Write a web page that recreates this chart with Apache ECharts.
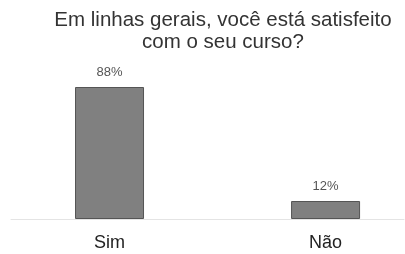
<!DOCTYPE html>
<html>
<head>
<meta charset="utf-8">
<script src="https://cdn.jsdelivr.net/npm/echarts@6/dist/echarts.min.js"></script>
<style>
  html, body { margin: 0; padding: 0; background: #fff; }
  #chart { width: 405px; height: 254px; }
</style>
</head>
<body>
<div id="chart"></div>
<script>
const titleText = 'Em linhas gerais, você está satisfeito\ncom o seu curso?'
const categories = ['Sim', 'Não']
const percents = [88, 12]

const myChart = echarts.init(document.getElementById('chart'))

const option = {
  animation: false,
  title: {
    text: titleText,
    left: 218,
    top: 4,
    textAlign: 'center',
    textStyle: {
      fontFamily: 'Liberation Sans',
      fontSize: 20.5,
      fontWeight: 'normal',
      color: '#333',
      lineHeight: 22
    }
  },
  grid: {
    left: 11,
    right: 1,
    top: 69,
    bottom: 35
  },
  xAxis: {
    type: 'value',
    min: -0.456,
    max: 1.363,
    axisLine: {
      show: true,
      lineStyle: { color: '#e4e4e4', width: 1 }
    },
    axisTick: { show: false },
    splitLine: { show: false },
    axisLabel: {
      customValues: [0, 1],
      margin: 15,
      fontFamily: 'Liberation Sans',
      fontSize: 18,
      color: '#222',
      formatter: (v) => categories[Math.round(v)]
    }
  },
  yAxis: {
    type: 'value',
    min: 0,
    max: 100,
    show: false
  },
  series: [
    {
      type: 'bar',
      barWidth: 69,
      data: percents.map((v, i) => [i, v]),
      itemStyle: {
        color: '#808080',
        borderColor: '#555',
        borderWidth: 1
      },
      label: {
        show: true,
        position: 'top',
        distance: 8,
        fontFamily: 'Liberation Sans',
        fontSize: 13,
        color: '#555',
        formatter: (p) => p.value[1] + '%'
      }
    }
  ]
}

myChart.setOption(option)
</script>
</body>
</html>
